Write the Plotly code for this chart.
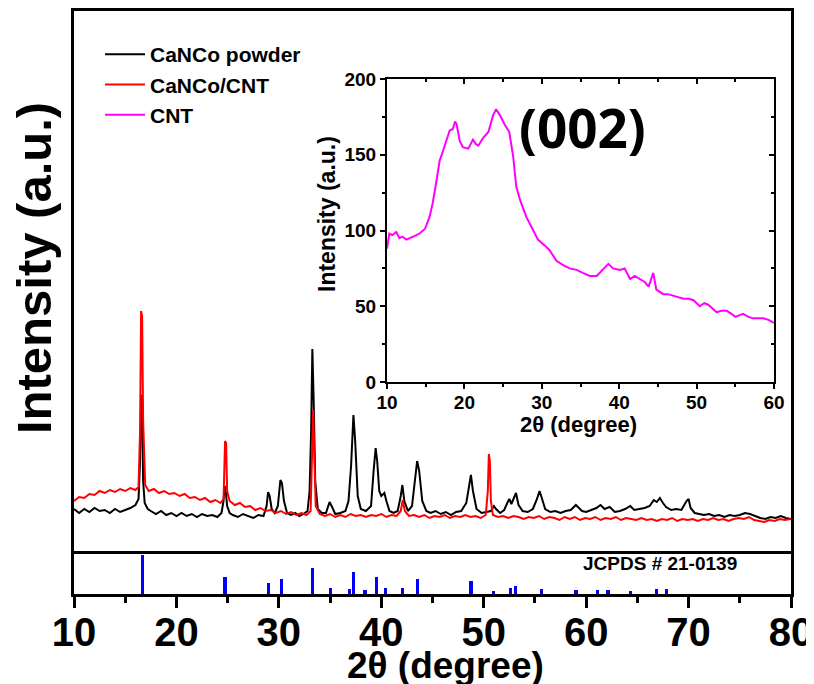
import plotly.graph_objects as go

# ---------------- data ----------------
# CaNCo powder (black), intensity in a.u.
powder_x = [10.0, 10.5, 11.0, 11.5, 12.0, 12.5, 13.0, 13.5, 14.0, 14.5, 15.0, 15.5, 16.0, 16.3, 16.45, 16.55, 16.65, 16.75, 16.9,
            17.2, 17.5, 18.0, 18.5, 19.0, 19.5, 20.0, 20.5, 21.0, 21.5, 22.0, 22.5, 23.0, 23.5, 24.0, 24.4, 24.6, 24.7, 24.8, 24.95,
            25.2, 25.5, 26.0, 26.5, 27.0, 27.5, 28.0, 28.5, 28.8, 28.95, 29.1, 29.3, 29.6, 29.9, 30.15, 30.3, 30.5, 30.8,
            31.2, 31.6, 32.0, 32.4, 32.8, 33.0, 33.15, 33.27, 33.4, 33.55, 33.8, 34.2, 34.6, 34.95, 35.2, 35.5, 36.0, 36.5,
            36.8, 37.05, 37.28, 37.45, 37.7, 38.0, 38.5, 39.0, 39.25, 39.45, 39.6, 39.8, 40.0, 40.3, 40.5, 40.8, 41.2, 41.6,
            41.9, 42.06, 42.25, 42.6, 43.0, 43.3, 43.5, 43.7, 44.0, 44.4, 44.8, 45.3, 45.8, 46.3, 46.8, 47.3, 47.8, 48.3,
            48.6, 48.75, 48.95, 49.3, 49.8, 50.3, 50.7, 51.0, 51.2, 51.6, 52.0, 52.3, 52.5, 52.7, 53.0, 53.15, 53.4, 53.8,
            54.3, 54.8, 55.2, 55.45, 55.7, 56.0, 56.5, 57.0, 57.5, 58.0, 58.5, 59.0, 59.2, 59.6, 60.0, 60.5, 61.0, 61.4,
            61.8, 62.3, 62.8, 63.3, 63.8, 64.3, 64.7, 65.2, 65.7, 66.2, 66.6, 66.9, 67.2, 67.5, 67.8, 68.3, 68.8, 69.3,
            69.8, 70.0, 70.2, 70.6, 71.0, 71.5, 72.0, 72.5, 73.0, 73.5, 74.0, 74.5, 75.0, 75.5, 76.0, 76.5, 77.0, 77.5,
            78.0, 78.5, 79.0, 79.5, 80.0]
powder_y = [42, 38, 42, 39, 43, 40, 41, 38, 42, 39, 41, 43, 46, 52, 90, 156, 150, 70, 48,
            42, 40, 37, 40, 36, 38, 35, 38, 35, 37, 34, 37, 35, 36, 34, 38, 50, 65, 62, 45,
            38, 36, 34, 37, 35, 33, 36, 35, 45, 59, 55, 42, 38, 45, 71, 68, 50, 38,
            36, 38, 35, 37, 40, 60, 120, 202, 150, 70, 42, 38, 38, 49, 44, 37, 38, 40,
            50, 85, 136, 110, 55, 42, 40, 45, 80, 103, 90, 60, 55, 58, 50, 40, 38, 40,
            55, 66, 50, 40, 45, 70, 90, 80, 50, 40, 38, 40, 37, 39, 36, 39, 40, 48,
            70, 76, 60, 42, 38, 39, 40, 45, 42, 38, 41, 48, 52, 47, 55, 58, 46, 40,
            39, 42, 52, 60, 52, 42, 39, 40, 38, 40, 41, 46, 44, 40, 39, 41, 43, 46,
            42, 44, 39, 40, 42, 45, 41, 42, 43, 45, 51, 49, 53, 48, 44, 41, 42, 41,
            50, 52, 43, 38, 37, 36, 37, 35, 36, 34, 36, 35, 36, 38, 37, 35, 33, 32,
            34, 33, 35, 33, 32]

# CaNCo/CNT (red)
cnt_comp_x = [10.0, 10.5, 11.0, 11.5, 12.0, 12.5, 13.0, 13.5, 14.0, 14.5, 15.0, 15.5, 16.0, 16.3, 16.45, 16.55, 16.65, 16.75, 16.95,
              17.3, 17.8, 18.3, 18.8, 19.3, 19.8, 20.3, 20.8, 21.3, 21.8, 22.3, 22.8, 23.3, 23.8, 24.3, 24.6, 24.75, 24.85, 24.95,
              25.2, 25.7, 26.2, 26.7, 27.2, 27.7, 28.2, 28.7, 29.2, 29.7, 30.2, 30.7, 31.2, 31.7, 32.2, 32.7, 33.1, 33.25,
              33.35, 33.45, 33.6, 34.0, 34.5, 35.0, 35.5, 36.0, 36.5, 37.0, 37.5, 38.0, 38.5, 39.0, 39.5, 40.0, 40.5, 41.0,
              41.5, 41.9, 42.1, 42.3, 42.7, 43.2, 43.7, 44.2, 44.7, 45.2, 45.7, 46.2, 46.7, 47.2, 47.7, 48.2, 48.7, 49.2,
              49.7, 50.2, 50.4, 50.5, 50.6, 50.7, 50.9, 51.4, 51.9, 52.4, 52.9, 53.4, 53.9, 54.4, 54.9, 55.4, 55.9, 56.4,
              56.9, 57.4, 57.9, 58.4, 58.9, 59.4, 59.9, 60.4, 60.9, 61.4, 61.9, 62.4, 62.9, 63.4, 63.9, 64.4, 64.9, 65.4,
              65.9, 66.4, 66.9, 67.4, 67.9, 68.4, 68.9, 69.4, 69.9, 70.4, 70.9, 71.4, 71.9, 72.4, 72.9, 73.4, 73.9, 74.4,
              74.9, 75.4, 75.9, 76.4, 76.9, 77.4, 77.9, 78.4, 78.9, 79.4, 80.0]
cnt_comp_y = [50, 54, 53, 57, 56, 60, 58, 61, 59, 62, 60, 63, 61, 64, 120, 240, 235, 130, 66,
              60, 62, 58, 60, 57, 58, 55, 57, 53, 54, 51, 53, 49, 51, 48, 52, 110, 108, 60,
              50, 46, 48, 44, 45, 41, 43, 40, 41, 38, 40, 37, 39, 36, 38, 36, 40, 110,
              141, 100, 45, 37, 35, 37, 34, 36, 34, 37, 35, 36, 34, 36, 35, 37, 34, 36,
              35, 40, 51, 40, 35, 36, 34, 36, 33, 35, 34, 36, 33, 35, 34, 36, 34, 35,
              33, 36, 60, 97, 90, 50, 36, 34, 35, 33, 35, 34, 32, 34, 33, 35, 32, 34,
              33, 31, 34, 32, 34, 31, 33, 32, 34, 31, 33, 32, 34, 31, 33, 32, 31, 33,
              31, 32, 30, 32, 31, 33, 30, 32, 31, 32, 30, 32, 31, 33, 31, 32, 30, 32,
              33, 32, 34, 31, 30, 29, 31, 30, 32, 31, 32]

# CNT (magenta, inset)
cnt_x = [10.0, 10.3, 10.7, 11.2, 11.6, 12.0, 12.5, 13.0, 13.4, 13.8, 14.2, 14.9, 15.5, 15.9, 16.4, 16.8, 17.2, 17.7,
         18.1, 18.5, 18.8, 19.0, 19.4, 19.8, 20.5, 21.1, 21.5, 21.8, 22.4, 23.1, 23.7, 24.1, 24.6, 25.2, 25.8, 26.3,
         26.7, 27.2, 28.0, 28.9, 29.5, 30.4, 31.0, 31.9, 32.8, 33.6, 34.5, 35.3, 36.2, 37.1, 37.9, 38.6, 39.2, 40.1,
         40.7, 41.4, 42.0, 42.7, 43.3, 43.8, 44.4, 44.8, 45.7, 46.3, 47.0, 47.6, 48.3, 49.0, 49.6, 50.4, 51.0, 51.5,
         52.0, 52.6, 53.2, 53.9, 54.5, 55.0, 55.5, 56.0, 56.7, 57.3, 58.0, 58.6, 59.3, 60.0]
cnt_y = [88, 98, 97, 99, 95, 96, 94, 95, 96, 97, 98, 101, 109, 118, 133, 146, 152, 160,
         166, 167, 172, 170, 159, 155, 154, 160, 157, 156, 161, 165, 176, 180, 176, 170, 165, 149,
         129, 120, 109, 100, 94, 90, 87, 80, 77, 75, 74, 72, 70, 70, 74, 78, 75, 74,
         75, 68, 70, 68, 66, 63, 72, 61, 58, 58, 57, 56, 55, 55, 54, 50, 52, 51,
         49, 46, 47, 47, 45, 43, 44, 45, 43, 42, 42, 42, 41, 39]

# JCPDS # 21-0139 reference lines
ref_pos = [16.67, 24.75, 28.98, 30.28, 33.3, 35.06, 36.9, 37.3, 38.4, 39.56, 40.44, 42.06, 43.53,
           48.77, 50.95, 52.58, 53.13, 55.67, 59.02, 61.14, 62.12, 64.36, 66.84, 67.81]
ref_int = [39, 17.5, 11.5, 15.5, 26.5, 6.5, 5.5, 22, 4, 17.5, 6, 6.5, 15.5,
           13, 3.5, 6.5, 8, 5, 4, 4.5, 4, 3.5, 5, 5]

x_ticks = [10, 20, 30, 40, 50, 60, 70, 80]
inset_x_ticks = [10, 20, 30, 40, 50, 60]
inset_y_ticks = [0, 50, 100, 150, 200]

# ---------------- figure ----------------
FONT = "Liberation Sans, Arial, sans-serif"
fig = go.Figure()

fig.add_trace(go.Scatter(x=powder_x, y=powder_y, mode="lines", name="CaNCo powder",
                         line=dict(color="black", width=2), xaxis="x2", yaxis="y2"))
fig.add_trace(go.Scatter(x=cnt_comp_x, y=cnt_comp_y, mode="lines", name="CaNCo/CNT",
                         line=dict(color="#FF0000", width=2), xaxis="x2", yaxis="y2"))
fig.add_trace(go.Scatter(x=cnt_x, y=cnt_y, mode="lines", name="CNT",
                         line=dict(color="#FF00FF", width=2), xaxis="x3", yaxis="y3"))
fig.add_trace(go.Bar(x=ref_pos, y=ref_int, width=0.32, marker=dict(color="#0000FF", line=dict(width=0)),
                     showlegend=False, xaxis="x", yaxis="y"))
# helper traces for mirrored inset axes (invisible)
fig.add_trace(go.Scatter(x=cnt_x, y=cnt_y, mode="lines", line=dict(color="rgba(0,0,0,0)"),
                         showlegend=False, hoverinfo="skip", xaxis="x4", yaxis="y3"))
fig.add_trace(go.Scatter(x=cnt_x, y=cnt_y, mode="lines", line=dict(color="rgba(0,0,0,0)"),
                         showlegend=False, hoverinfo="skip", xaxis="x3", yaxis="y4"))

# page body adds an ~8px offset; the figure is sized/margined to compensate
bot = 43 / 583
ins_x = [(387 - 74) / 717, (774 - 74) / 717]
ins_y = [(594 - 382) / 583, (594 - 79) / 583]

fig.update_layout(
    width=830, height=676,
    margin=dict(l=66, r=47, t=3, b=90, autoexpand=False),
    paper_bgcolor="white", plot_bgcolor="rgba(0,0,0,0)",
    font=dict(family=FONT, color="black"),
    showlegend=True,
    bargap=0,
    legend=dict(x=(100 - 74) / 717, y=(594 - 34) / 583, xanchor="left", yanchor="top",
                bgcolor="rgba(0,0,0,0)", font=dict(family=FONT, size=21, color="black", weight="bold"),
                tracegroupgap=0, itemwidth=40),
    xaxis=dict(domain=[0, 1], range=[10, 80], anchor="y", tickvals=x_ticks, automargin=False,
               ticks="outside", ticklen=11, tickwidth=3, tickcolor="black", ticklabelstandoff=-10,
               minor=dict(dtick=5, tick0=5, ticklen=6, tickwidth=3, tickcolor="black", ticks="outside"),
               tickfont=dict(family=FONT, size=40, color="black", weight="bold"),
               showline=True, linewidth=3, linecolor="black", mirror=False,
               showgrid=False, zeroline=False),
    yaxis=dict(domain=[0, bot], range=[0, 43], anchor="x", showticklabels=False, ticks="", automargin=False,
               showline=True, linewidth=3, linecolor="black", mirror=True,
               showgrid=False, zeroline=False),
    xaxis2=dict(domain=[0, 1], range=[10, 80], anchor="y2", matches="x", showticklabels=False, ticks="",
                automargin=False,
                showline=True, linewidth=3, linecolor="black", mirror=True,
                showgrid=False, zeroline=False),
    yaxis2=dict(domain=[bot, 1], range=[0, 540], anchor="x2", showticklabels=False, ticks="", automargin=False,
                showline=True, linewidth=3, linecolor="black", mirror=True,
                showgrid=False, zeroline=False),
    xaxis3=dict(domain=ins_x, range=[10, 60], anchor="y3", tickvals=inset_x_ticks, automargin=False,
                ticks="outside", ticklen=5, tickwidth=1.5, tickcolor="black", ticklabelstandoff=-3,
                minor=dict(dtick=5, tick0=5, ticklen=3, tickwidth=1.5, tickcolor="black", ticks="outside"),
                tickfont=dict(family=FONT, size=19, color="black", weight="bold"),
                showline=True, linewidth=2, linecolor="black", mirror=True,
                showgrid=False, zeroline=False),
    yaxis3=dict(domain=ins_y, range=[0, 200], anchor="x3", tickvals=inset_y_ticks, automargin=False,
                ticks="outside", ticklen=5, tickwidth=1.5, tickcolor="black",
                minor=dict(dtick=25, tick0=25, ticklen=3, tickwidth=1.5, tickcolor="black", ticks="outside"),
                tickfont=dict(family=FONT, size=19, color="black", weight="bold"),
                showline=True, linewidth=2, linecolor="black", mirror=True,
                showgrid=False, zeroline=False),
    xaxis4=dict(overlaying="x3", side="top", anchor="y3", range=[10, 60], tickvals=inset_x_ticks,
                automargin=False,
                ticks="inside", ticklen=5, tickwidth=1.5, tickcolor="black", showticklabels=False,
                minor=dict(dtick=5, tick0=5, ticklen=3, tickwidth=1.5, tickcolor="black", ticks="inside"),
                showline=False, showgrid=False, zeroline=False),
    yaxis4=dict(overlaying="y3", side="right", anchor="x3", range=[0, 200], tickvals=inset_y_ticks,
                automargin=False,
                ticks="inside", ticklen=5, tickwidth=1.5, tickcolor="black", showticklabels=False,
                minor=dict(dtick=25, tick0=25, ticklen=3, tickwidth=1.5, tickcolor="black", ticks="inside"),
                showline=False, showgrid=False, zeroline=False),
)

annotations = [
    dict(text="<b>Intensity (a.u.)</b>", x=(34 - 74) / 717, y=(594 - 268) / 583, xref="paper", yref="paper",
         textangle=-90, showarrow=False, font=dict(family=FONT, size=49, color="black"),
         xanchor="center", yanchor="middle"),
    dict(text="<b>2θ (degree)</b>", x=(445 - 74) / 717, y=(594 - 665) / 583, xref="paper", yref="paper",
         showarrow=False, font=dict(family=FONT, size=37, color="black"), xanchor="center", yanchor="middle"),
    dict(text="<b>Intensity (a.u.)</b>", x=(327 - 74) / 717, y=(594 - 214) / 583, xref="paper", yref="paper",
         textangle=-90, showarrow=False, font=dict(family=FONT, size=23, color="black"),
         xanchor="center", yanchor="middle"),
    dict(text="<b>2θ (degree)</b>", x=(578 - 74) / 717, y=(594 - 424) / 583, xref="paper", yref="paper",
         showarrow=False, font=dict(family=FONT, size=22, color="black"), xanchor="center", yanchor="middle"),
    dict(text="<b>(002)</b>", x=(582 - 74) / 717, y=(594 - 128) / 583, xref="paper", yref="paper",
         showarrow=False, font=dict(family="Open Sans, Lato, sans-serif", size=53, color="black"),
         xanchor="center", yanchor="middle"),
    dict(text="<b>JCPDS # 21-0139</b>", x=(660 - 74) / 717, y=(594 - 563) / 583, xref="paper", yref="paper",
         showarrow=False, font=dict(family=FONT, size=19, color="black"), xanchor="center", yanchor="middle"),
]
fig.update_layout(annotations=annotations)

fig.write_html("out.html")
